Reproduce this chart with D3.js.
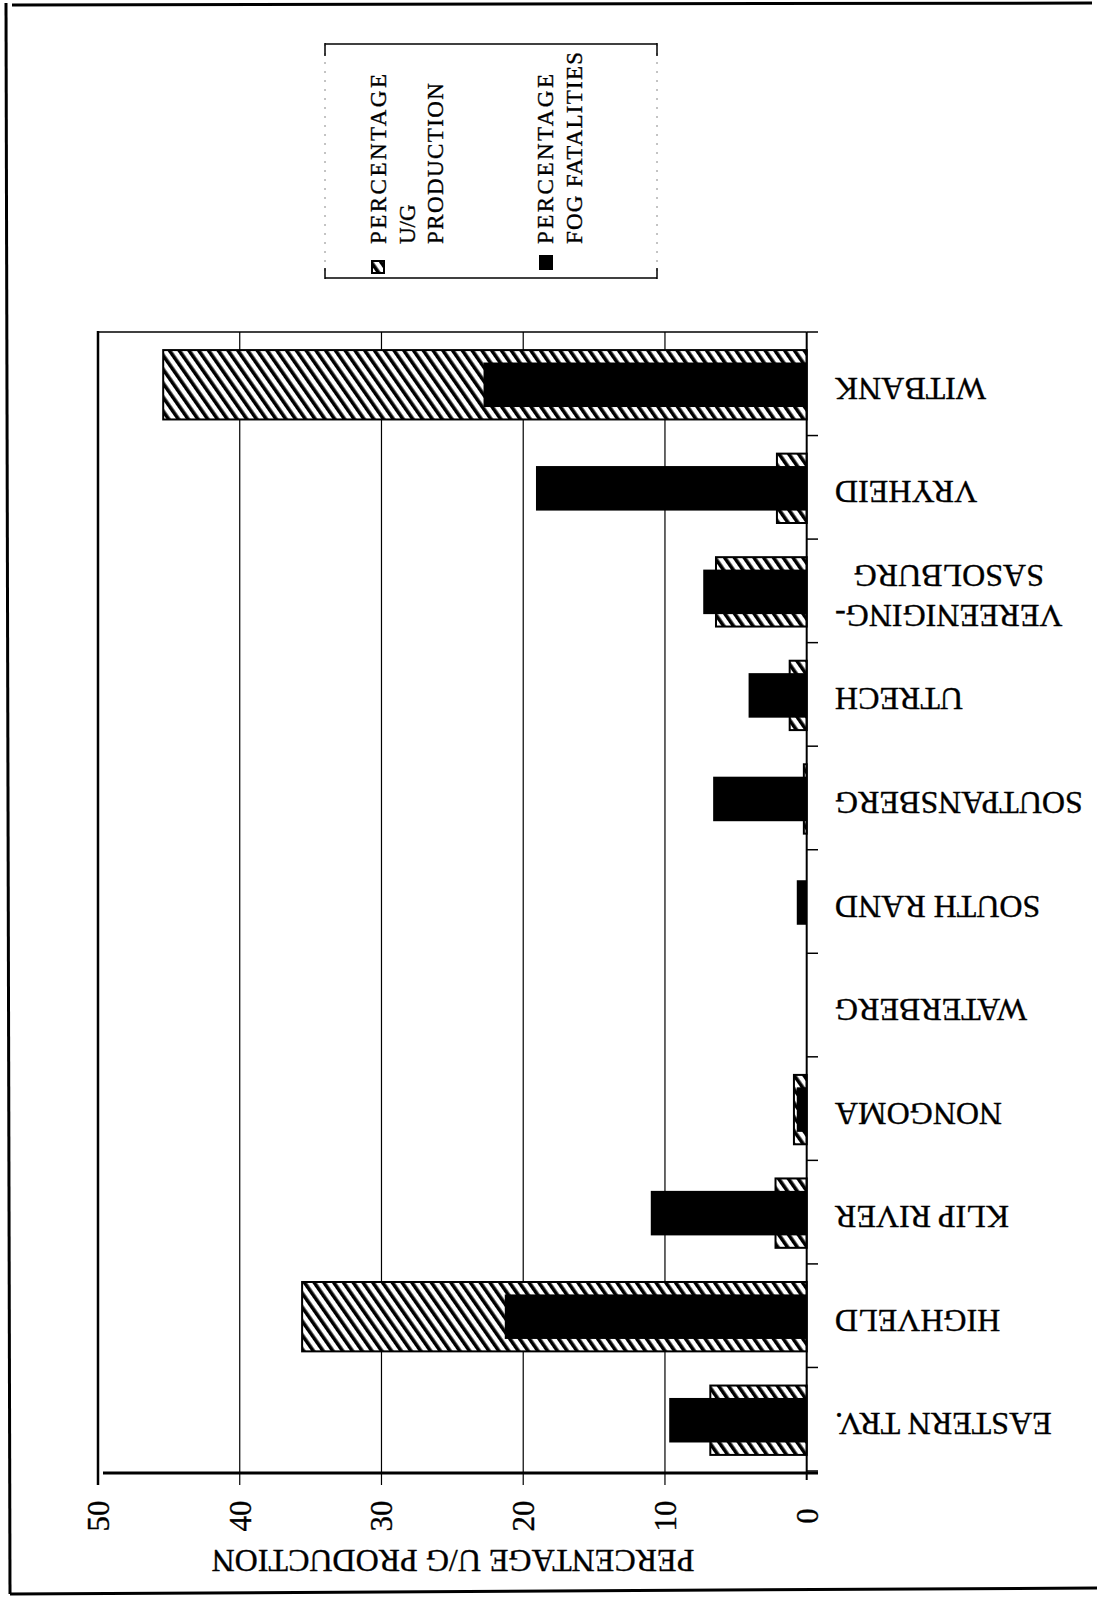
<!DOCTYPE html>
<html>
<head>
<meta charset="utf-8">
<script src="https://cdn.jsdelivr.net/npm/d3@7"></script>
<style>
  html, body { margin: 0; padding: 0; background: #fff; }
  svg { display: block; }
  text { font-family: "Liberation Serif", "Times New Roman", serif; fill: #000; stroke: #000; stroke-width: 0.35; }
</style>
</head>
<body>
<svg id="chart" width="1098" height="1599"></svg>
<script>
// ---- data (original order: first category at the bottom of the page) ----
const categories = ["EASTERN TRV.", "HIGHVELD", "KLIP RIVER", "NONGOMA", "WATERBERG",
  "SOUTH RAND", "SOUTPANSBERG", "UTRECH", "VEREENIGING-SASOLBURG", "VRYHEID", "WITBANK"];
const productionPct = [6.8, 35.6, 2.2, 0.9, 0, 0, 0.2, 1.2, 6.4, 2.1, 45.4];
const fogFatalitiesPct = [9.7, 21.3, 11.0, 0.7, 0, 0.7, 6.6, 4.1, 7.3, 19.1, 22.8];
const valueTicks = [0, 10, 20, 30, 40, 50];
const axisTitle = "PERCENTAGE U/G PRODUCTION";
const legendProduction = ["PERCENTAGE", "U/G", "PRODUCTION"];
const legendFatalities = ["PERCENTAGE", "FOG FATALITIES"];

const svg = d3.select("#chart");

// hatch pattern
const defs = svg.append("defs");
const pat = defs.append("pattern").attr("id", "hatch")
  .attr("patternUnits", "userSpaceOnUse").attr("width", 8).attr("height", 8)
  .attr("patternTransform", "rotate(-35)");
pat.append("rect").attr("width", 8).attr("height", 8).attr("fill", "#fff");
pat.append("rect").attr("width", 3.6).attr("height", 8).attr("fill", "#000");

// page frame (scanned, slightly skewed)
svg.append("line").attr("x1", 12).attr("y1", 5).attr("x2", 1092).attr("y2", 3)
  .attr("stroke", "#000").attr("stroke-width", 3);
svg.append("line").attr("x1", 6).attr("y1", 3).attr("x2", 10).attr("y2", 1594)
  .attr("stroke", "#000").attr("stroke-width", 3);
svg.append("line").attr("x1", 10).attr("y1", 1594).attr("x2", 1097).attr("y2", 1588)
  .attr("stroke", "#000").attr("stroke-width", 3);

// scales
const plotTop = 332, plotBottom = 1471;
const y = d3.scaleBand().domain(categories).range([plotBottom, plotTop]);
const x = d3.scaleLinear().domain([0, 50]).range([806.7, 98]);
const bw = y.bandwidth();

// gridlines / value ticks
const g = svg.append("g");
g.selectAll("line.grid").data(valueTicks.filter(v => v > 0 && v < 50)).join("line")
  .attr("class", "grid")
  .attr("x1", d => x(d)).attr("x2", d => x(d))
  .attr("y1", plotTop).attr("y2", 1485)
  .attr("stroke", "#000").attr("stroke-width", 1.2);

// plot frame
g.append("line").attr("x1", x(50)).attr("x2", x(0)).attr("y1", plotTop).attr("y2", plotTop)
  .attr("stroke", "#000").attr("stroke-width", 1.5);
g.append("line").attr("x1", x(50)).attr("x2", x(50)).attr("y1", plotTop - 1).attr("y2", 1485)
  .attr("stroke", "#000").attr("stroke-width", 2.5);
g.append("line").attr("x1", x(50) + 5).attr("x2", 818).attr("y1", 1473).attr("y2", 1473)
  .attr("stroke", "#000").attr("stroke-width", 3);

// bars
const rows = categories.map((c, i) => ({ c, p: productionPct[i], f: fogFatalitiesPct[i] }));
const hh = bw * 0.67, fh = bw * 0.43;
g.selectAll("rect.prod").data(rows.filter(d => d.p > 0)).join("rect")
  .attr("class", "prod")
  .attr("x", d => x(d.p)).attr("width", d => x(0) - x(d.p))
  .attr("y", d => y(d.c) + (bw - hh) / 2 + 1).attr("height", hh)
  .attr("fill", "url(#hatch)").attr("stroke", "#000").attr("stroke-width", 2);
g.selectAll("rect.fat").data(rows.filter(d => d.f > 0)).join("rect")
  .attr("class", "fat")
  .attr("x", d => x(d.f)).attr("width", d => x(0) - x(d.f))
  .attr("y", d => y(d.c) + (bw - fh) / 2 + 1).attr("height", fh)
  .attr("fill", "#000");

// category axis line + boundary ticks
g.append("line").attr("x1", x(0)).attr("x2", x(0)).attr("y1", plotTop).attr("y2", 1480)
  .attr("stroke", "#000").attr("stroke-width", 2);
const bounds = categories.map(c => y(c)).concat([y(categories[0]) + bw]);
g.selectAll("line.ctick").data(bounds).join("line")
  .attr("class", "ctick")
  .attr("x1", x(0)).attr("x2", 818).attr("y1", d => d).attr("y2", d => d)
  .attr("stroke", "#000").attr("stroke-width", 1.5);

// category labels (upside down)
const labG = svg.append("g");
categories.forEach(c => {
  const lines = c.split(/(?<=-)/);
  const cy = y(c) + bw / 2;
  const t = labG.append("text").attr("font-size", 32).attr("text-anchor", "middle");
  lines.forEach((ln, i) => t.append("tspan").attr("x", 0).attr("y", i * 40).text(ln));
  let maxW = 0;
  t.selectAll("tspan").each(function () { maxW = Math.max(maxW, this.getComputedTextLength()); });
  const ty = cy - 6 + (lines.length - 1) * 20;
  t.attr("transform", `translate(${835 + maxW / 2},${ty}) rotate(180)`);
});

// value tick labels (rotated)
svg.append("g").selectAll("text").data(valueTicks).join("text")
  .attr("font-size", 31).attr("text-anchor", "middle")
  .attr("transform", d => `translate(${x(d) + 11},1516) rotate(-90)`)
  .text(d => d);

// axis title (upside down)
svg.append("text").attr("font-size", 32).attr("text-anchor", "middle")
  .attr("transform", "translate(453,1550) rotate(180)")
  .text(axisTitle);

// legend
const lg = svg.append("g");
lg.append("line").attr("x1", 325).attr("x2", 657).attr("y1", 44).attr("y2", 44)
  .attr("stroke", "#000").attr("stroke-width", 1.5);
lg.append("line").attr("x1", 325).attr("x2", 657).attr("y1", 278).attr("y2", 278)
  .attr("stroke", "#000").attr("stroke-width", 1.5);
[325, 657].forEach(xx => {
  lg.append("line").attr("x1", xx).attr("x2", xx).attr("y1", 44).attr("y2", 278)
    .attr("stroke", "#888").attr("stroke-width", 1).attr("stroke-dasharray", "2,7");
  lg.append("line").attr("x1", xx).attr("x2", xx).attr("y1", 43).attr("y2", 56)
    .attr("stroke", "#000").attr("stroke-width", 1.5);
  lg.append("line").attr("x1", xx).attr("x2", xx).attr("y1", 268).attr("y2", 279)
    .attr("stroke", "#000").attr("stroke-width", 1.5);
});
lg.append("rect").attr("x", 372).attr("y", 261).attr("width", 12).attr("height", 12)
  .attr("fill", "url(#hatch)").attr("stroke", "#000").attr("stroke-width", 2);
lg.append("rect").attr("x", 539).attr("y", 255).attr("width", 14).attr("height", 15)
  .attr("fill", "#000");

function legendText(lines, baselines, lengths) {
  lines.forEach((ln, i) => {
    const t = lg.append("text").attr("font-size", 23)
      .attr("transform", `translate(${baselines[i]},244) rotate(-90)`)
      .text(ln);
    if (lengths[i]) t.attr("textLength", lengths[i]).attr("lengthAdjust", "spacing");
  });
}
legendText(legendProduction, [386, 415, 443], [170, 0, 161]);
legendText(legendFatalities, [553, 582], [170, 192]);
</script>
</body>
</html>
